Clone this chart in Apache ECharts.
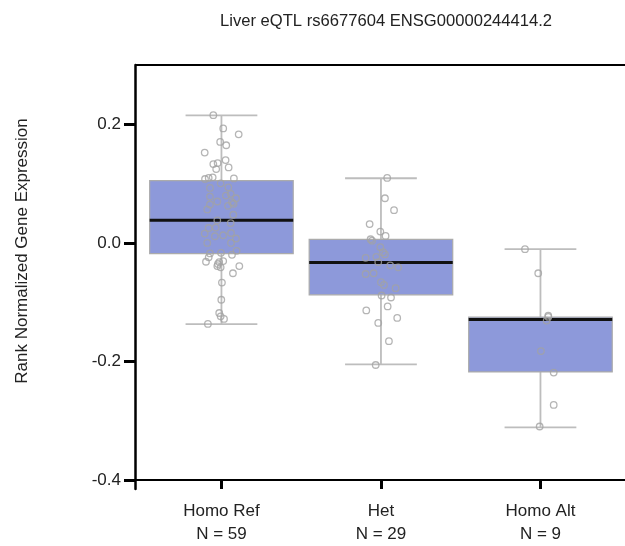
<!DOCTYPE html>
<html>
<head>
<meta charset="utf-8">
<script src="https://cdn.jsdelivr.net/npm/echarts@6/dist/echarts.min.js"></script>
<style>
html,body{margin:0;padding:0;background:#fff;}
#chart{width:625px;height:546px;}
</style>
</head>
<body>
<div id="chart"></div>
<script>
// ---- data ----
const titleText = 'Liver eQTL rs6677604 ENSG00000244414.2';
const yAxisTitle = 'Rank Normalized Gene Expression';
const categories = ['Homo Ref', 'Het', 'Homo Alt'];
const sampleCounts = [59, 29, 9];
const yTickValues = [-0.4, -0.2, 0.0, 0.2];

// box statistics per genotype
const whiskerLow  = [-0.137, -0.205, -0.311];
const quartile1   = [-0.018, -0.0875, -0.2175];
const medians     = [0.038, -0.033, -0.129];
const quartile3   = [0.105, 0.006, -0.125];
const whiskerHigh = [0.215, 0.109, -0.0105];

// individual samples: [jittered category position, value]
const homoRefPoints = [
  [-0.051, 0.2154], [0.011, 0.1931], [0.108, 0.1831], [-0.008, 0.1702], [0.030, 0.1647],
  [-0.105, 0.1523], [-0.051, 0.1329], [-0.024, 0.1346], [0.026, 0.1396], [0.045, 0.1272],
  [-0.033, 0.1245], [-0.103, 0.1078], [-0.080, 0.1095], [-0.055, 0.1105], [0.078, 0.1088],
  [-0.005, 0.1004], [0.043, 0.0937], [-0.072, 0.0927], [-0.072, 0.0782], [0.028, 0.0798],
  [0.058, 0.0827], [0.091, 0.0753], [-0.026, 0.0698], [0.076, 0.0659], [-0.072, 0.0648],
  [0.066, 0.0686], [-0.089, 0.0564], [0.074, 0.0475], [-0.026, 0.0380], [0.058, 0.0335],
  [-0.080, 0.0251], [-0.036, 0.0258], [-0.105, 0.0157], [0.011, 0.0129], [0.060, 0.0167],
  [-0.041, 0.0112], [0.091, 0.0074], [-0.089, 0.0000], [0.060, 0.0000], [0.095, -0.0134],
  [-0.003, -0.0167], [-0.072, -0.0177], [0.066, -0.0201], [-0.080, -0.0244], [-0.097, -0.0318],
  [-0.014, -0.0323], [0.011, -0.0306], [-0.026, -0.0390], [-0.005, -0.0412], [0.112, -0.0390],
  [0.072, -0.0512], [0.003, -0.0669], [-0.001, -0.0959], [-0.014, -0.1182], [-0.005, -0.1238],
  [0.016, -0.1282], [-0.085, -0.1366], [-0.022, -0.0356], [0.041, 0.0626]
];
const hetPoints = [
  [1.039, 0.1095], [1.025, 0.0753], [1.082, 0.0552], [0.929, 0.0318], [0.996, 0.0191],
  [1.029, 0.0117], [0.935, 0.0062], [0.944, 0.0037], [0.996, -0.0072], [0.904, -0.0251],
  [0.971, -0.0234], [1.025, -0.0194], [1.013, -0.0156], [0.983, -0.0323], [1.058, -0.0378],
  [1.108, -0.0412], [0.904, -0.0524], [0.954, -0.0512], [1.000, -0.0663], [1.019, -0.0708],
  [1.092, -0.0763], [1.004, -0.0887], [1.063, -0.0921], [1.042, -0.1071], [0.908, -0.1138],
  [1.102, -0.1265], [0.983, -0.1349], [1.050, -0.1657], [0.967, -0.2059]
];
const homoAltPoints = [
  [1.903, -0.0105], [1.986, -0.0512], [2.049, -0.1227], [2.039, -0.1310], [2.049, -0.1249],
  [2.003, -0.1824], [2.083, -0.2186], [2.083, -0.2733], [1.995, -0.3096]
];

// ---- chart ----
const FONT = '"Liberation Sans", Arial, Helvetica, sans-serif';
const boxData = categories.map((c, i) => [i, whiskerLow[i], quartile1[i], medians[i], quartile3[i], whiskerHigh[i]]);
const allPoints = homoRefPoints.concat(hetPoints, homoAltPoints);

function renderBox(params, api) {
  const idx = api.value(0);
  const low = api.coord([idx, api.value(1)]);
  const q1 = api.coord([idx, api.value(2)]);
  const med = api.coord([idx, api.value(3)]);
  const q3 = api.coord([idx, api.value(4)]);
  const high = api.coord([idx, api.value(5)]);
  const boxW = api.size([0.9, 0])[0];
  const capW = boxW / 2;
  const cx = low[0];
  const wStyle = { stroke: '#bdbdbd', lineWidth: 1.8 };
  return {
    type: 'group',
    children: [
      { type: 'line', shape: { x1: cx, y1: high[1], x2: cx, y2: low[1] }, style: wStyle },
      { type: 'line', shape: { x1: cx - capW / 2, y1: high[1], x2: cx + capW / 2, y2: high[1] }, style: wStyle },
      { type: 'line', shape: { x1: cx - capW / 2, y1: low[1], x2: cx + capW / 2, y2: low[1] }, style: wStyle },
      { type: 'rect', shape: { x: cx - boxW / 2, y: q3[1], width: boxW, height: q1[1] - q3[1] },
        style: { fill: '#8d99da', stroke: '#ababab', lineWidth: 1.2 } },
      { type: 'line', shape: { x1: cx - boxW / 2, y1: med[1], x2: cx + boxW / 2, y2: med[1] },
        style: { stroke: '#111', lineWidth: 3 } }
    ]
  };
}

const chart = echarts.init(document.getElementById('chart'), null, { renderer: 'canvas' });
chart.setOption({
  animation: false,
  backgroundColor: '#fff',
  textStyle: { fontFamily: FONT },
  title: {
    text: titleText,
    left: 215,
    top: 8,
    textStyle: { fontFamily: FONT, fontSize: 16.6, fontWeight: 'normal', color: '#222' }
  },
  graphic: [{
    type: 'text',
    x: 22,
    y: 251,
    rotation: Math.PI / 2,
    style: {
      text: yAxisTitle,
      font: '17px ' + FONT,
      fill: '#222',
      textAlign: 'center',
      textVerticalAlign: 'middle'
    }
  }],
  grid: { left: 135, top: 65, right: 0, bottom: 54, containLabel: false },
  xAxis: {
    type: 'value',
    min: -0.542,
    max: 2.53,
    splitLine: { show: false },
    axisLine: { show: false, onZero: false },
    axisTick: {
      show: true, inside: true, length: 9, customValues: [0, 1, 2],
      lineStyle: { color: '#000', width: 3 }
    },
    axisLabel: {
      show: true,
      customValues: [0, 1, 2],
      margin: 11,
      fontSize: 17,
      lineHeight: 23,
      color: '#222',
      fontFamily: FONT,
      formatter: v => categories[Math.round(v)] + '\nN = ' + sampleCounts[Math.round(v)]
    }
  },
  yAxis: {
    type: 'value',
    min: -0.415,
    max: 0.3,
    splitLine: { show: false },
    axisLine: { show: true, onZero: false, lineStyle: { color: '#000', width: 2.5 } },
    axisTick: {
      show: true, length: 11, customValues: yTickValues,
      lineStyle: { color: '#000', width: 3 }
    },
    axisLabel: {
      show: true,
      customValues: yTickValues,
      margin: 14,
      fontSize: 17,
      color: '#222',
      fontFamily: FONT,
      formatter: v => v.toFixed(1)
    }
  },
  series: [
    {
      type: 'custom',
      renderItem: renderBox,
      data: boxData,
      encode: { x: 0, y: [1, 2, 3, 4, 5] },
      clip: false,
      z: 2
    },
    {
      type: 'scatter',
      data: allPoints,
      symbol: 'circle',
      symbolSize: 6.5,
      itemStyle: { color: 'rgba(255,255,255,0)', borderColor: '#a3a3a3', borderWidth: 1.3 },
      z: 3,
      markLine: {
        silent: true,
        symbol: 'none',
        label: { show: false },
        lineStyle: { color: '#000', width: 2, type: 'solid' },
        data: [{ yAxis: -0.4 }, { yAxis: 0.3 }]
      }
    }
  ]
});
</script>
</body>
</html>
